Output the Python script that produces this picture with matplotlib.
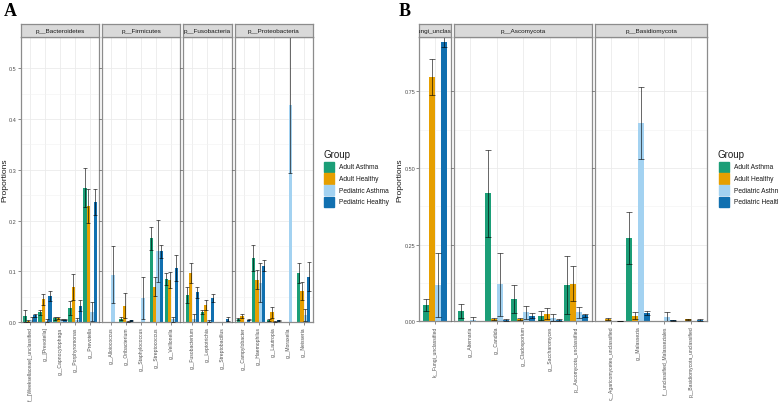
'''
Relative abundance per group, bacteria (A) and fungi (B)
'''

import numpy as np
import matplotlib
matplotlib.use('Agg')
import matplotlib.pyplot as plt
from matplotlib.patches import Rectangle

plt.rcParams['font.family'] = ['Liberation Sans', 'DejaVu Sans']

# ═══ Data ═════════════════════════════════════════════════════════════════

groups = ['Adult Asthma', 'Adult Healthy', 'Pediatric Asthma', 'Pediatric Healthy']
colors = ['#1B9E77', '#E69F00', '#A3D2F1', '#1170B0']

# ─── A : bacteria
phyla_a = ['p__Bacteroidetes', 'p__Firmicutes', 'p__Fusobacteria', 'p__Proteobacteria']
taxa_a = ['f__[Weeksellaceae]_unclassified', 'g__[Prevotella]', 'g__Capnocytophaga',
          'g__Porphyromonas', 'g__Prevotella',
          'g__Alloiococcus', 'g__Oribacterium', 'g__Staphylococcus', 'g__Streptococcus',
          'g__Veillonella',
          'g__Fusobacterium', 'g__Leptotrichia', 'g__Streptobacillus',
          'g__Campylobacter', 'g__Haemophilus', 'g__Lautropia', 'g__Moraxella', 'g__Neisseria']
phylum_of_a = [0]*5 + [1]*5 + [2]*3 + [3]*5

aa_a = [0.013, 0.020, 0.008, 0.028, 0.265, 0.0, 0.007, 0.001, 0.165, 0.085,
        0.054, 0.020, 0.001, 0.007, 0.126, 0.005, 0.0005, 0.097]
ah_a = [0.003, 0.045, 0.008, 0.070, 0.229, 0.0, 0.033, 0.0005, 0.070, 0.083,
        0.097, 0.034, 0.0005, 0.013, 0.084, 0.020, 0.0005, 0.062]
pa_a = [0.005, 0.003, 0.005, 0.004, 0.021, 0.094, 0.001, 0.048, 0.141, 0.006,
        0.006, 0.003, 0.0, 0.0005, 0.078, 0.001, 0.428, 0.015]
ph_a = [0.014, 0.051, 0.005, 0.033, 0.237, 0.0, 0.004, 0.0, 0.140, 0.107,
        0.059, 0.048, 0.006, 0.005, 0.111, 0.004, 0.0, 0.090]

aa_se_a = [0.012, 0.005, 0.003, 0.013, 0.038, 0.0, 0.003, 0.0, 0.023, 0.012,
           0.016, 0.004, 0.0, 0.002, 0.026, 0.002, 0.0, 0.020]
ah_se_a = [0.002, 0.010, 0.002, 0.026, 0.033, 0.0, 0.025, 0.0, 0.019, 0.015,
           0.020, 0.009, 0.0, 0.004, 0.019, 0.011, 0.0, 0.018]
pa_se_a = [0.006, 0.003, 0.001, 0.005, 0.019, 0.057, 0.001, 0.042, 0.061, 0.005,
           0.010, 0.002, 0.0, 0.0, 0.038, 0.001, 0.134, 0.012]
ph_se_a = [0.003, 0.010, 0.001, 0.010, 0.026, 0.0, 0.001, 0.0, 0.013, 0.026,
           0.011, 0.008, 0.004, 0.001, 0.011, 0.001, 0.0, 0.028]

# ─── B : fungi
phyla_b = ['k__Fungi_unclassified', 'p__Ascomycota', 'p__Basidiomycota']
taxa_b = ['k__Fungi_unclassified',
          'g__Alternaria', 'g__Candida', 'g__Cladosporium', 'g__Saccharomyces',
          'p__Ascomycota_unclassified',
          'c__Agaricomycetes_unclassified', 'g__Malassezia',
          'f__unclassified_Malasseziales', 'p__Basidiomycota_unclassified']
phylum_of_b = [0] + [1]*5 + [2]*4

aa_b = [0.053, 0.034, 0.418, 0.073, 0.018, 0.119, 0.0, 0.271, 0.0, 0.0]
ah_b = [0.797, 0.0, 0.008, 0.008, 0.024, 0.122, 0.008, 0.018, 0.0, 0.007]
pa_b = [0.118, 0.005, 0.120, 0.030, 0.012, 0.029, 0.0, 0.647, 0.014, 0.0]
ph_b = [0.912, 0.0, 0.004, 0.018, 0.004, 0.020, 0.001, 0.027, 0.003, 0.005]

aa_se_b = [0.021, 0.023, 0.142, 0.046, 0.015, 0.095, 0.0, 0.084, 0.0, 0.0]
ah_se_b = [0.058, 0.0, 0.004, 0.004, 0.018, 0.057, 0.004, 0.012, 0.0, 0.002]
pa_se_b = [0.104, 0.008, 0.102, 0.021, 0.012, 0.018, 0.0, 0.118, 0.016, 0.0]
ph_se_b = [0.016, 0.0, 0.002, 0.008, 0.003, 0.005, 0.001, 0.008, 0.001, 0.003]

# ═══ Figure ═══════════════════════════════════════════════════════════════

W, H = 778, 406
fig = plt.figure(figsize=(W/100, H/100), dpi=100)

def px_axes(x0, y0, x1, y1):
  return fig.add_axes([x0/W, 1 - y1/H, (x1 - x0)/W, (y1 - y0)/H])

def facets(phyla, phylum_of, taxa, means, ses, x_left, x_right, y_top, y_bot,
           yticks, ytick_lab, ylab_x, gap=3):

  means = np.array(means)
  ses = np.array(ses)
  phylum_of = np.array(phylum_of)
  counts = [np.sum(phylum_of == k) for k in range(len(phyla))]
  units = [n - 1 + 1.2 for n in counts]
  upx = (x_right - x_left - gap*(len(phyla) - 1)) / sum(units)
  ymax = np.max(means + ses)
  offs = np.array([-0.3375, -0.1125, 0.1125, 0.3375])

  x = x_left
  for k, ph in enumerate(phyla):
    w = units[k]*upx
    ax = px_axes(x, y_top, x + w, y_bot)
    idx = np.where(phylum_of == k)[0]
    pos = np.arange(len(idx))

    for g in range(4):
      ax.bar(pos + offs[g], means[g, idx], width=0.225, color=colors[g], zorder=2)
      m = ses[g, idx] > 0
      ax.errorbar(pos[m] + offs[g], means[g, idx][m], yerr=ses[g, idx][m], fmt='none',
                  ecolor=(0, 0, 0, 0.6), elinewidth=0.7, capthick=0.7,
                  capsize=0.2*upx/2*0.72, zorder=3)

    ax.set_xlim(-0.6, len(idx) - 1 + 0.6)
    ax.set_ylim(0, ymax)
    ax.set_xticks(pos)
    ax.set_xticklabels([taxa[i] for i in idx], rotation=90, ha='center', va='top',
                       fontsize=3.6, color='#4D4D4D')
    ax.set_yticks(yticks)
    ax.set_yticks(np.array(yticks[:-1]) + (yticks[1] - yticks[0])/2, minor=True)
    if k == 0:
      ax.set_yticklabels(ytick_lab, fontsize=4, color='#4D4D4D')
    else:
      ax.tick_params(axis='y', which='both', length=0, labelleft=False)
    ax.tick_params(axis='both', which='major', length=2, width=0.4, color='#333333', pad=1)
    ax.tick_params(axis='y', which='minor', length=0)
    ax.grid(True, which='major', color='#EBEBEB', linewidth=0.6, zorder=0)
    ax.grid(True, which='minor', axis='y', color='#F2F2F2', linewidth=0.4, zorder=0)
    ax.set_axisbelow(True)
    for s in ax.spines.values():
      s.set_color('#8C8C8C')
      s.set_linewidth(0.9)

    # Strip
    sa = px_axes(x, y_top - 12.7, x + w, y_top)
    sa.set_facecolor('#D9D9D9')
    sa.set_xticks([])
    sa.set_yticks([])
    for s in sa.spines.values():
      s.set_color('#8C8C8C')
      s.set_linewidth(0.9)
    sa.text(0.5, 0.45, ph, ha='center', va='center', fontsize=4.6, color='#1A1A1A',
            transform=sa.transAxes, clip_on=True)

    x += w + gap

  fig.text(ylab_x/W, 1 - (y_top + y_bot)/2/H, 'Proportions', rotation=90,
           ha='center', va='center', fontsize=6, color='#1A1A1A')

def legend(x0, y0):
  fig.text(x0/W, 1 - y0/H, 'Group', ha='left', va='center', fontsize=7, color='#1A1A1A')
  for g, lab in enumerate(groups):
    yk = y0 + 7.7 + g*11.7
    fig.patches.append(Rectangle((x0/W + 0.5/W, 1 - (yk + 10.3)/H), 10.5/W, 10.3/H,
                                 transform=fig.transFigure, color=colors[g]))
    fig.text((x0 + 16)/W, 1 - (yk + 5.2)/H, lab, ha='left', va='center',
             fontsize=4.8, color='#1A1A1A')

# ─── Panel A
facets(phyla_a, phylum_of_a, taxa_a, [aa_a, ah_a, pa_a, ph_a],
       [aa_se_a, ah_se_a, pa_se_a, ph_se_a], 21, 312.7, 37.7, 323.3,
       [0.0, 0.1, 0.2, 0.3, 0.4, 0.5], ['0.0', '0.1', '0.2', '0.3', '0.4', '0.5'], 5)
legend(323, 155)
fig.text(4/W, 1 - 11/H, 'A', fontsize=13, fontweight='bold', family='Liberation Serif',
         ha='left', va='center')

# ─── Panel B
facets(phyla_b, phylum_of_b, taxa_b, [aa_b, ah_b, pa_b, ph_b],
       [aa_se_b, ah_se_b, pa_se_b, ph_se_b], 419.3, 707, 37.7, 322.3,
       [0.0, 0.25, 0.5, 0.75], ['0.00', '0.25', '0.50', '0.75'], 400)
legend(718, 155)
fig.text(399/W, 1 - 11/H, 'B', fontsize=13, fontweight='bold', family='Liberation Serif',
         ha='left', va='center')

fig.savefig('out.png', dpi=100)
